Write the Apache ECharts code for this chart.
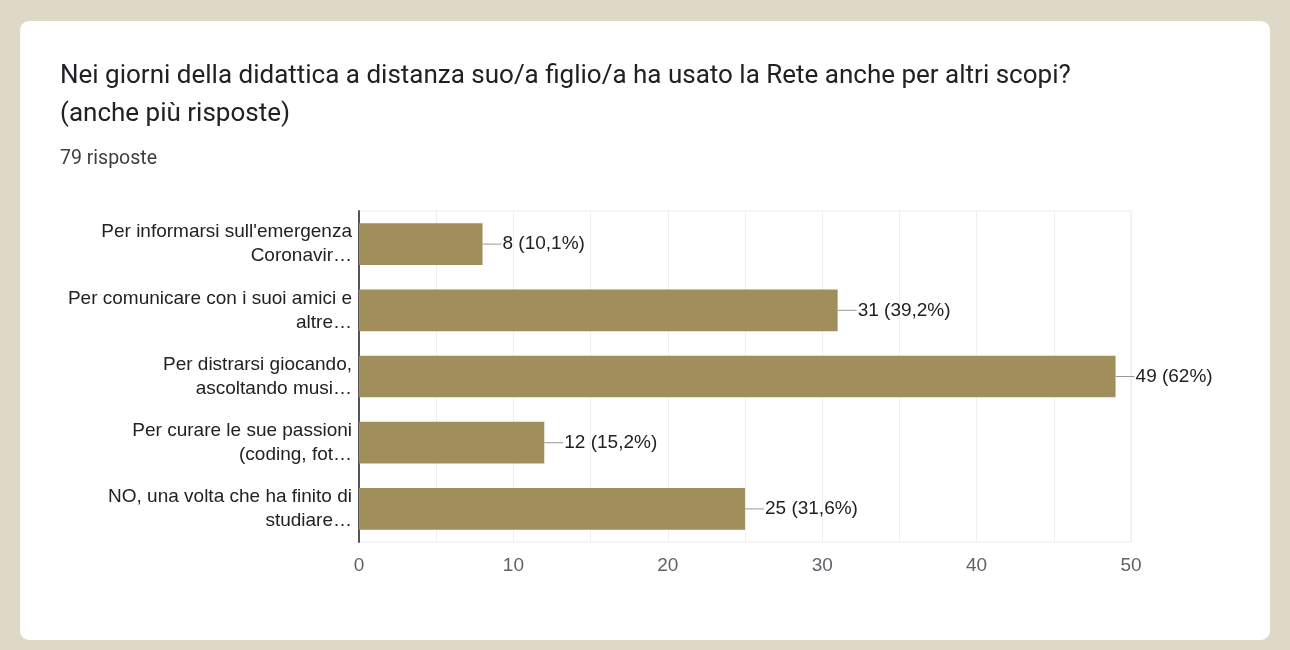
<!DOCTYPE html>
<html lang="it">
<head>
<meta charset="UTF-8">
<title>Rete per altri scopi</title>
<style>
	html, body { margin: 0; padding: 0; background: #ded8c6; }
	#main { width: 1290px; height: 650px; }
</style>
</head>
<body>
	<div id="main"></div>

	<script src="https://cdn.jsdelivr.net/npm/echarts@6/dist/echarts.min.js"></script>
	<script type="text/javascript">
		// risposte (ordine dall'alto verso il basso)
		var categories = [
			"Per informarsi sull'emergenza\nCoronavir\u2026",
			"Per comunicare con i suoi amici e\naltre\u2026",
			"Per distrarsi giocando,\nascoltando musi\u2026",
			"Per curare le sue passioni\n(coding, fot\u2026",
			"NO, una volta che ha finito di\nstudiare\u2026"
		];
		var counts = [8, 31, 49, 12, 25];
		var percents = ['10,1%', '39,2%', '62%', '15,2%', '31,6%'];
		var xTicks = [0, 10, 20, 30, 40, 50];

		var myChart = echarts.init(document.getElementById('main'));

		var option = {
			backgroundColor: '#ded8c6',
			animation: false,
			graphic: [{
				type: 'rect',
				z: -10,
				shape: { x: 20, y: 21, width: 1250, height: 619, r: 9 },
				style: { fill: '#ffffff' }
			}, {
				type: 'text',
				left: 60,
				top: 57,
				style: {
					text: 'Nei giorni della didattica a distanza suo/a figlio/a ha usato la Rete anche per altri scopi?\n(anche più risposte)',
					font: '26px Roboto, "Open Sans", sans-serif',
					lineHeight: 38,
					fill: '#202124'
				}
			}, {
				type: 'text',
				left: 60,
				top: 149,
				style: {
					text: '79 risposte',
					font: '19.5px Roboto, "Open Sans", sans-serif',
					fill: '#3c4043'
				}
			}],
			grid: {
				left: 359,
				right: 159,
				top: 211,
				bottom: 108,
				show: true,
				borderColor: '#ececec',
				borderWidth: 1
			},
			xAxis: {
				type: 'value',
				min: 0,
				max: 50,
				interval: 5,
				axisLine: { show: false },
				axisTick: { show: false },
				splitLine: { lineStyle: { color: '#efefef' } },
				axisLabel: {
					margin: 14,
					color: '#5f6368',
					fontFamily: '"Liberation Sans", Arial, sans-serif',
					fontSize: 19,
					formatter: function (v) {
						return xTicks.indexOf(v) >= 0 ? String(v) : '';
					}
				}
			},
			yAxis: {
				type: 'category',
				inverse: true,
				data: categories,
				axisLine: { show: true, lineStyle: { color: '#555', width: 2 } },
				axisTick: { show: false },
				axisLabel: {
					margin: 7,
					align: 'right',
					color: '#222',
					fontFamily: '"Liberation Sans", Arial, sans-serif',
					fontSize: 19,
					lineHeight: 24
				}
			},
			series: [{
				type: 'bar',
				data: counts,
				barWidth: '63%',
				itemStyle: { color: '#a08f5b' },
				label: {
					show: true,
					position: 'right',
					distance: 0,
					formatter: function (p) {
						return '{l|}{v|' + p.value + ' (' + percents[p.dataIndex] + ')}';
					},
					rich: {
						l: { width: 19, height: 1, backgroundColor: '#999999' },
						v: {
							color: '#222',
							fontFamily: '"Liberation Sans", Arial, sans-serif',
							fontSize: 19,
							padding: [0, 0, 0, 1]
						}
					}
				}
			}]
		};

		myChart.setOption(option);
	</script>
</body>
</html>
